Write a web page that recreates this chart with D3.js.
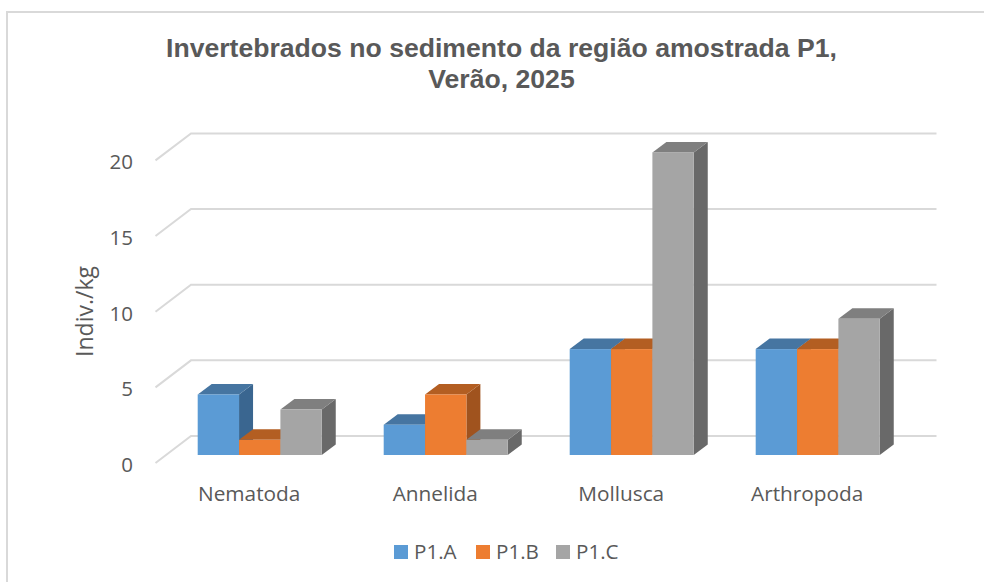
<!DOCTYPE html>
<html><head><meta charset="utf-8">
<script src="https://cdn.jsdelivr.net/npm/d3@7"></script>
<style>html,body{margin:0;padding:0;background:#fff}svg{display:block}</style>
</head><body><div id="c"></div>
<script>
const categories=["Nematoda","Annelida","Mollusca","Arthropoda"];
const seriesNames=["P1.A","P1.B","P1.C"];
const valuesA=[4,2,7,7];
const valuesB=[1,4,7,7];
const valuesC=[3,1,20,9];
const tickValues=[0,5,10,15,20];
const seriesValues=[valuesA,valuesB,valuesC];
const frontColors=["#5B9BD5","#ED7D31","#A5A5A5"];
const topColors=["#4675A1","#B35E22","#7F7F7F"];
const sideColors=["#3A6690","#A0531E","#696969"];

const svg=d3.select("#c").append("svg").attr("width",984).attr("height",582);
svg.append("path").attr("fill","none").attr("stroke","#D9D9D9").attr("stroke-width",2)
  .attr("d",d3.line()([[7,582],[7,12],[984,12]]));

const font="'Open Sans', sans-serif", txt="#595959";
const y=d3.scaleLinear().domain([0,20]).range([455,152.4]);
const inset=36.4, bw=41.35;
const x0=d3.scaleBand().domain(categories).range([197.7-inset,197.7-inset+186*4]);
const barX=(ci,si)=>x0(categories[ci])+inset+si*bw;
const depthX=14, depthY=10.5;
const wallX=191, wallR=936.5, wallDy=-19, frontX=155.5, frontDy=8;

const gl=svg.append("g");
tickValues.forEach(t=>{
  const yy=y(t);
  gl.append("path").attr("fill","none").attr("stroke","#D9D9D9").attr("stroke-width",2)
    .attr("d",d3.line()([[frontX,yy+frontDy],[wallX,yy+wallDy],[wallR,yy+wallDy]]));
});

const axis=d3.axisLeft(y).tickValues(tickValues).tickSize(0).tickPadding(0);
const ag=svg.append("g").attr("transform","translate(133,10)").call(axis);
ag.select(".domain").remove();
ag.selectAll("text").attr("font-family",font).attr("font-size",20.5).attr("fill",txt);

categories.forEach((c,ci)=>{
  seriesValues.forEach((vals,si)=>{
    const l=barX(ci,si), r=l+bw, t=y(vals[ci]), b=y(0);
    const g=svg.append("g");
    g.append("path").attr("fill",sideColors[si])
      .attr("d",d3.line()([[r,t],[r+depthX,t-depthY],[r+depthX,b-depthY],[r,b]])+"Z");
    g.append("path").attr("fill",topColors[si])
      .attr("d",d3.line()([[l,t],[l+depthX,t-depthY],[r+depthX,t-depthY],[r,t]])+"Z");
    g.append("rect").attr("x",l).attr("y",t).attr("width",bw).attr("height",b-t).attr("fill",frontColors[si]);
  });
});

categories.forEach((c,ci)=>{
  svg.append("text").attr("x",x0(c)+inset+bw*1.5-10.5).attr("y",501).attr("text-anchor","middle")
    .attr("font-family",font).attr("font-size",20.8).attr("fill",txt).text(c);
});

const title=svg.append("text").attr("text-anchor","middle").attr("font-family","'Liberation Sans',Arial,sans-serif")
  .attr("font-weight","bold").attr("font-size",26.6).attr("fill",txt);
title.append("tspan").attr("x",501.5).attr("y",57).text("Invertebrados no sedimento da região amostrada P1,");
title.append("tspan").attr("x",501.5).attr("y",87.5).text("Verão, 2025");

svg.append("text").attr("transform","translate(93,311.5) rotate(-90)").attr("text-anchor","middle")
  .attr("font-family",font).attr("font-size",23).attr("fill",txt).text("Indiv./kg");

const legendSq=[394,476,556], legendTx=[414,496,576];
seriesNames.forEach((n,i)=>{
  svg.append("rect").attr("x",legendSq[i]).attr("y",545).attr("width",14).attr("height",14).attr("fill",frontColors[i]);
  svg.append("text").attr("x",legendTx[i]).attr("y",559).attr("font-family",font).attr("font-size",20.6).attr("fill",txt).text(n);
});
</script></body></html>
